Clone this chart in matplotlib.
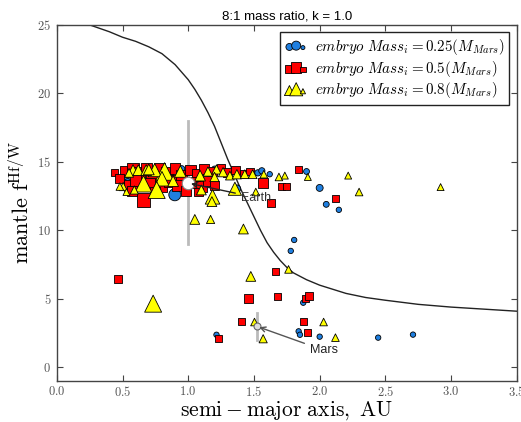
import matplotlib
matplotlib.use("Agg")
import matplotlib.pyplot as plt
import matplotlib.ticker as mticker
import numpy as np

plt.rcParams['mathtext.fontset'] = 'cm'

# boundary curve
curve_x = [0.25, 0.4, 0.5, 0.6, 0.7, 0.8, 0.9, 1.0, 1.05, 1.1, 1.15, 1.2, 1.25, 1.3, 1.35, 1.4,
           1.45, 1.5, 1.55, 1.6, 1.65, 1.7, 1.75, 1.8, 1.9, 2.0, 2.1, 2.2, 2.35, 2.5, 2.75, 3.0,
           3.25, 3.5]
curve_y = [25.0, 24.5, 24.1, 23.8, 23.4, 22.9, 22.1, 21.0, 20.3, 19.5, 18.6, 17.6, 16.4, 15.2,
           14.1, 13.0, 12.0, 11.0, 10.0, 9.1, 8.4, 7.8, 7.3, 6.9, 6.4, 6.0, 5.7, 5.4, 5.1, 4.9,
           4.6, 4.4, 4.25, 4.1]

# embryo mass 0.25 M_Mars (blue circles): a, fHf/W, marker area
blue_x = [0.517, 0.54, 0.898, 0.95, 0.60, 1.20, 1.37, 1.53, 1.56, 1.62, 1.57, 1.90, 2.00, 2.05, 2.146,
          1.806, 1.78, 1.875, 1.84, 1.85, 2.00, 2.445, 2.71, 1.215]
blue_y = [13.77, 13.5, 12.6, 14.5, 14.6, 14.5, 13.04, 14.2, 14.35, 14.1, 13.4, 14.3, 13.1, 11.9, 11.5,
          9.3, 8.5, 4.72, 2.63, 2.38, 2.24, 2.17, 2.39, 2.38]
blue_s = [40, 30, 75, 20, 20, 15, 30, 20, 20, 15, 25, 18, 25, 18, 15,
          15, 15, 15, 15, 15, 15, 15, 15, 15]

# embryo mass 0.5 M_Mars (red squares)
red_x = [0.44, 0.467, 1.456, 1.405, 1.228, 1.664, 1.677, 1.895, 1.92, 1.88, 1.91, 1.837, 2.12, 1.63,
         1.71, 1.75, 1.57,
         0.52, 0.58, 0.63, 0.68, 0.72, 0.78, 0.84, 0.90, 0.95, 1.02, 1.07, 1.12, 1.18, 1.25, 1.30,
         1.36, 1.42, 1.47,
         0.55, 0.60, 0.66, 0.70, 0.80, 0.86, 0.92, 1.05, 1.10, 1.15, 1.20, 0.57, 0.75, 0.98, 1.08, 0.48]
red_y = [14.2, 6.47, 5.01, 3.38, 2.09, 7.0, 5.2, 5.01, 5.2, 3.38, 2.53, 14.42, 12.36, 12.0,
         13.2, 13.2, 13.45,
         14.3, 14.5, 14.2, 14.5, 14.0, 14.5, 14.2, 14.5, 14.0, 14.4, 14.1, 14.5, 14.3, 14.5, 14.2,
         14.4, 14.1, 14.3,
         13.3, 13.7, 12.25, 13.4, 13.2, 13.6, 13.3, 13.5, 13.2, 13.6, 13.3, 12.9, 12.8, 12.9, 12.8, 13.8]
red_s = [25, 30, 45, 25, 25, 25, 25, 25, 30, 25, 25, 25, 25, 30,
         25, 25, 45,
         60, 70, 60, 60, 70, 60, 80, 60, 70, 60, 60, 50, 50, 40, 40,
         35, 30, 30,
         60, 70, 100, 70, 60, 70, 60, 60, 70, 50, 40, 50, 50, 50, 40, 40]

# embryo mass 0.8 M_Mars (yellow triangles)
yel_x = [0.733, 1.476, 1.763, 1.504, 1.57, 2.03, 2.12, 2.217, 2.30, 2.92, 1.91, 1.69, 1.735, 1.42,
         1.17, 1.05, 1.514, 1.355, 1.185, 1.18, 1.10, 1.575,
         1.15, 1.215, 1.265, 1.317, 1.37, 1.43, 1.49, 1.20, 1.09,
         0.82, 0.745, 0.94, 0.66, 0.80, 0.76, 0.505, 0.59, 0.53, 0.58, 0.62, 0.68, 0.885, 0.70, 0.55, 0.48]
yel_y = [4.65, 6.64, 7.15, 3.31, 2.09, 3.31, 2.17, 14.0, 12.8, 13.16, 13.9, 13.9, 14.0, 10.1,
         10.8, 10.8, 12.8, 13.04, 12.45, 12.1, 12.95, 14.1,
         14.3, 14.45, 14.25, 14.0, 14.1, 14.1, 14.1, 13.9, 14.0,
         14.3, 14.4, 14.3, 13.4, 13.77, 12.95, 13.2, 12.95, 12.8, 14.4, 14.4, 14.4, 13.6, 14.45, 14.2, 13.2]
yel_s = [150, 50, 30, 30, 35, 30, 30, 25, 30, 25, 25, 30, 25, 50,
         35, 50, 30, 90, 110, 50, 50, 30,
         45, 45, 45, 40, 45, 40, 40, 45, 60,
         160, 90, 70, 140, 110, 150, 35, 35, 25, 60, 60, 60, 60, 60, 40, 30]

earth = (1.0, 13.45)
earth_err = (9.0, 18.0)
mars = (1.52, 3.0)
mars_err = (2.0, 4.0)

fig = plt.figure(figsize=(5.21, 4.22), dpi=100)
ax = fig.add_axes([0.109, 0.097, 0.883, 0.844])

ax.plot(curve_x, curve_y, color='#222222', lw=1.0, zorder=2)
ax.plot([earth[0], earth[0]], earth_err, color='#bbbbbb', lw=2, zorder=1)
ax.plot([mars[0], mars[0]], mars_err, color='#bbbbbb', lw=2, zorder=1)

ax.scatter(blue_x, blue_y, s=blue_s, c='#1f7fe0', marker='o', edgecolors='k', linewidths=0.6,
           zorder=3, label=r'$embryo\ Mass_i = 0.25(M_{Mars})$')
ax.scatter(red_x, red_y, s=red_s, c='#ff0000', marker='s', edgecolors='k', linewidths=0.6,
           zorder=4, label=r'$embryo\ Mass_i = 0.5(M_{Mars})$')
ax.scatter(yel_x, yel_y, s=yel_s, c='#ffff00', marker='^', edgecolors='k', linewidths=0.6,
           zorder=5, label=r'$embryo\ Mass_i = 0.8(M_{Mars})$')

ax.plot([earth[0]], [earth[1]], 'o', ms=9, mfc='white', mec='#888888', mew=0.8, zorder=6)
ax.plot([mars[0]], [mars[1]], 'o', ms=5, mfc='#dddddd', mec='#666666', mew=0.8, zorder=6)

ax.annotate('Earth', xy=earth, xytext=(1.40, 12.4), fontsize=9, family='Liberation Sans',
            color='#333333', va='center', ha='left',
            arrowprops=dict(arrowstyle='->', color='#222222', lw=1.0), zorder=7)
ax.annotate('Mars', xy=mars, xytext=(1.925, 1.25), fontsize=9, family='Liberation Sans',
            color='#222222', va='center', ha='left',
            arrowprops=dict(arrowstyle='->', color='#555555', lw=1.0), zorder=7)

ax.set_xlim(0, 3.5)
ax.set_ylim(-1, 25)
ax.xaxis.set_major_locator(mticker.MultipleLocator(0.5))
ax.yaxis.set_major_locator(mticker.MultipleLocator(5))
ax.xaxis.set_major_formatter(mticker.FuncFormatter(lambda v, p: r'$%.1f$' % v))
ax.yaxis.set_major_formatter(mticker.FuncFormatter(lambda v, p: r'$%d$' % v))
ax.tick_params(direction='in', top=True, right=True, length=4, width=0.8,
               color='#444444', labelcolor='#555555', labelsize=9, pad=4)
ax.tick_params(axis='x', pad=3)
for sp in ax.spines.values():
    sp.set_color('#444444')
    sp.set_linewidth(1.0)

ax.set_xlabel(r'$\mathrm{semi-major\ axis,\ AU}$', fontsize=15.5, labelpad=0)
ax.set_ylabel(r'$\mathrm{mantle\ f^{Hf/W}}$', fontsize=16, labelpad=3)
ax.set_title('8:1 mass ratio, k = 1.0', fontsize=9.5, family='Liberation Sans', pad=4)

leg = ax.legend(loc='upper right', scatterpoints=3, fontsize=10.8, fancybox=False,
                framealpha=1, edgecolor='#222222', borderaxespad=0.5, handletextpad=0.5,
                labelspacing=0.12, markerscale=0.75, borderpad=0.3, handlelength=1.5)
leg.get_frame().set_linewidth(1.0)

fig.savefig('out.png', dpi=100)
